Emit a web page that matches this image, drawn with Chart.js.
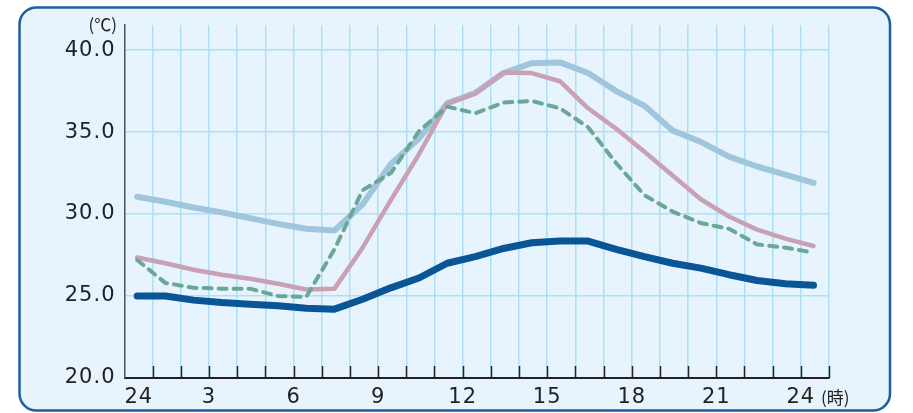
<!DOCTYPE html>
<html>
<head>
<meta charset="utf-8">
<script src="https://cdn.jsdelivr.net/npm/chart.js@4"></script>
<style>
  body { margin: 0; background: #fff; }
</style>
</head>
<body>
<canvas id="chart" width="913" height="413"></canvas>
<script>
var hours = [0, 1, 2, 3, 4, 5, 6, 7, 8, 9, 10, 11, 12, 13, 14, 15, 16, 17, 18, 19, 20, 21, 22, 23, 24];
var hourLabels = ["24", "", "", "3", "", "", "6", "", "", "9", "", "", "12", "", "", "15", "", "", "18", "", "", "21", "", "", "24"];
var yTicks = [20, 25, 30, 35, 40];

var temp_light = [31.05, 30.75, 30.4, 30.1, 29.75, 29.4, 29.1, 29.0, 30.6, 33.05, 34.6, 36.75, 37.4, 38.6, 39.2, 39.25, 38.6, 37.5, 36.6, 35.1, 34.4, 33.5, 32.9, 32.4, 31.9];
var temp_pink = [27.35, 27.0, 26.6, 26.3, 26.05, 25.75, 25.4, 25.45, 27.95, 30.85, 33.65, 36.75, 37.35, 38.63, 38.6, 38.1, 36.45, 35.2, 33.8, 32.35, 30.9, 29.85, 29.05, 28.5, 28.05];
var temp_green = [27.2, 25.8, 25.5, 25.45, 25.45, 25.0, 24.95, 27.85, 31.45, 32.5, 35.05, 36.55, 36.15, 36.8, 36.9, 36.45, 35.3, 33.1, 31.15, 30.15, 29.45, 29.1, 28.15, 27.95, 27.65];
var temp_dark = [25.0, 25.0, 24.75, 24.6, 24.5, 24.4, 24.25, 24.2, 24.8, 25.5, 26.1, 27.0, 27.4, 27.9, 28.25, 28.35, 28.35, 27.85, 27.4, 27.0, 26.7, 26.3, 25.95, 25.75, 25.65];

// tick grid is shifted a bit left of the data points
var xShift = -0.45;

function toPoints(arr) {
    var pts = [];
    for (let i = 0; i < hours.length; i++) {
        pts.push({ x: hours[i], y: arr[i] });
    }
    return pts;
}

const panelPlugin = {
    id: "panel",
    beforeDraw: function(chart) {
        const ctx = chart.ctx;
        ctx.save();
        ctx.beginPath();
        ctx.roundRect(19.5, 7.5, 870.5, 403, 17);
        ctx.fillStyle = "#e7f4fd";
        ctx.fill();
        ctx.lineWidth = 2.5;
        ctx.strokeStyle = "#1d5e9c";
        ctx.stroke();
        ctx.restore();
        // slightly wider digits like the original
        ctx.letterSpacing = "1px";
    },
    afterDraw: function(chart) {
        const ctx = chart.ctx;
        const xs = chart.scales.x;
        const area = chart.chartArea;
        ctx.save();
        // tick marks pointing up from the axis
        ctx.strokeStyle = "#222";
        ctx.lineWidth = 1.5;
        for (let k = 1; k <= 25; k++) {
            const px = Math.round(xs.getPixelForValue(xShift + k)) + 0.5;
            ctx.beginPath();
            ctx.moveTo(px, area.bottom);
            ctx.lineTo(px, area.bottom - 12);
            ctx.stroke();
        }
        // hour labels
        ctx.fillStyle = "#222";
        ctx.letterSpacing = "1px";
        ctx.font = "21px 'DejaVu Sans'";
        ctx.textBaseline = "middle";
        for (let k = 0; k < hourLabels.length; k++) {
            if (hourLabels[k] === "") continue;
            const px = xs.getPixelForValue(xShift + k);
            if (k === 0) {
                ctx.textAlign = "left";
                ctx.fillText(hourLabels[k], px, 398);
            } else {
                ctx.textAlign = "center";
                ctx.fillText(hourLabels[k], px, 398);
            }
        }
        ctx.letterSpacing = "0px";
        ctx.font = "17px 'Noto Sans CJK JP'";
        ctx.textAlign = "left";
        ctx.fillText("(時)", 821, 398);
        ctx.textAlign = "right";
        ctx.fillText("(℃)", 117, 25);
        ctx.restore();
    }
};

const ctx = document.getElementById("chart").getContext("2d");
const myChart = new Chart(ctx, {
    type: "line",
    data: {
        datasets: [{
            data: toPoints(temp_dark),
            borderColor: "#0a5596",
            borderWidth: 7,
            order: 0,
        }, {
            data: toPoints(temp_green),
            borderColor: "#6aa796",
            borderWidth: 4,
            borderDash: [8, 7],
            order: 1,
        }, {
            data: toPoints(temp_pink),
            borderColor: "#c9a1b5",
            borderWidth: 4.5,
            order: 2,
        }, {
            data: toPoints(temp_light),
            borderColor: "#9fc6dc",
            borderWidth: 6,
            order: 3,
        }, ],
    },
    options: {
        responsive: false,
        devicePixelRatio: 1,
        animation: false,
        elements: {
            point: { radius: 0 },
            line: { tension: 0, borderCapStyle: "round", borderJoinStyle: "round", fill: false },
        },
        layout: {
            padding: { left: 0, right: 84, top: 25, bottom: 0 },
        },
        plugins: {
            legend: { display: false },
            tooltip: { enabled: false },
        },
        scales: {
            x: {
                type: "linear",
                min: xShift,
                max: xShift + 25,
                afterBuildTicks: function(scale) {
                    var t = [];
                    for (let k = 0; k <= 25; k++) t.push({ value: xShift + k });
                    scale.ticks = t;
                },
                afterFit: function(scale) { scale.height = 35; },
                ticks: { display: false },
                grid: { color: "#ace0f6", lineWidth: 1.5, drawTicks: false },
                border: { color: "#222", width: 2 },
            },
            y: {
                min: 20,
                max: 41.53,
                afterBuildTicks: function(scale) {
                    scale.ticks = yTicks.map(function(v) { return { value: v }; });
                },
                afterFit: function(scale) { scale.width = 124.5; },
                ticks: {
                    padding: 9,
                    color: "#222",
                    font: { family: "'DejaVu Sans'", size: 21 },
                    callback: function(v) { return v.toFixed(1); },
                },
                grid: { color: "#ace0f6", lineWidth: 1.5, drawTicks: false },
                border: { color: "#555", width: 1.5 },
            },
        },
    },
    plugins: [panelPlugin],
});
</script>
</body>
</html>
